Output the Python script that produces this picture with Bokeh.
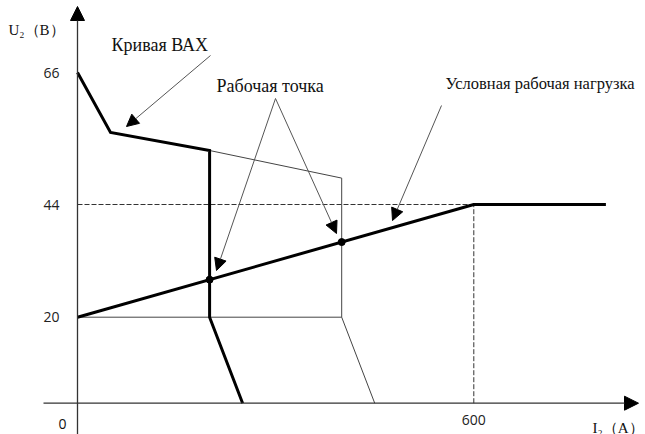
import numpy as np
from bokeh.plotting import figure
from bokeh.models import LinearAxis, FixedTicker, Arrow, NormalHead
from bokeh.core.properties import value
from bokeh.embed import file_html
from bokeh.resources import INLINE

# ---------------- data (schematic, volts / amperes) ----------------
u_ticks = [20, 44, 66]          # labelled voltage levels
i_ticks = [600]                 # labelled current
# the voltage axis of the schematic is not linear: tick positions (px above axis)
u_knots = [0, 20, 44, 66]
u_knot_pos = [0, 86, 198.7, 330.7]

bax_i = [0, 50, 200, 200, 250]          # Кривая ВАХ (bold)
bax_u = [66, 56, 53, 20, 0]
bax2_i = [200, 400, 400, 450]           # second (thin) curve
bax2_u = [53, 48.4, 20, 0]
load_i = [0, 600, 800]                  # Условная рабочая нагрузка
load_u = [20, 44, 44]
work_i = [200, 400]                     # Рабочая точка
work_u = [28, 36]
ref_u = 44                              # dashed reference level
ref_i = 600
low_u = 20
low_i_end = 400

# ---------------- layout helpers ----------------
W, H = 645, 434
KX = 0.6605                 # px per ampere
X0 = 77                     # canvas x of I = 0
YB = 402.7                  # canvas y of U = 0 (from top)
SERIF = "Times New Roman"
SANS = "Open Sans"


def Y(u):
    u = np.asarray(u, dtype=float)
    return np.where(u > 66, 330.7 + (u - 66) * 6.0, np.interp(u, u_knots, u_knot_pos))


def px(xr):   # canvas pixel x -> data x
    return (xr - X0) / KX


def py(yr):   # canvas pixel y -> data y
    return YB - yr


p = figure(width=W, height=H, x_range=(-X0 / KX, (W - X0) / KX),
           y_range=(-(H - YB), YB), x_axis_type=None, y_axis_type=None,
           toolbar_location=None, output_backend="svg", min_border=0)
p.outline_line_color = None
p.xgrid.visible = False
p.ygrid.visible = False
p.background_fill_color = "white"
p.border_fill_color = "white"

# axes (labels only) fixed at the origin
yticks = [float(v) for v in Y(u_ticks)]
yax = LinearAxis(fixed_location=0, ticker=FixedTicker(ticks=yticks),
                 major_label_overrides={t: str(u) for t, u in zip(yticks, u_ticks)})
xax = LinearAxis(fixed_location=0, ticker=FixedTicker(ticks=i_ticks),
                 major_label_overrides={float(i): str(i) for i in i_ticks})
for ax in (yax, xax):
    ax.axis_line_color = None
    ax.major_tick_line_color = None
    ax.minor_tick_line_color = None
    ax.major_label_text_font = SANS
    ax.major_label_text_font_size = "14px"
    ax.major_label_text_color = "#222222"
yax.major_label_standoff = 12
xax.major_label_standoff = 6
p.add_layout(yax, "left")
p.add_layout(xax, "below")

# axis arrows
p.add_layout(Arrow(x_start=px(43), y_start=0, x_end=px(638), y_end=0,
                   line_color="#333333", line_width=1.3,
                   end=NormalHead(size=14, fill_color="black", line_color="black")))
p.add_layout(Arrow(x_start=0, y_start=-(H - YB), x_end=0, y_end=py(6),
                   line_color="#333333", line_width=1.3,
                   end=NormalHead(size=14, fill_color="black", line_color="black")))

# thin guides
p.line([0, ref_i], [float(Y(ref_u))] * 2, line_color="#333333", line_width=1, line_dash="5 2")
p.line([ref_i, ref_i], [0, float(Y(ref_u))], line_color="#333333", line_width=1, line_dash="5 2")
p.line([0, low_i_end], [float(Y(low_u))] * 2, line_color="#444444", line_width=1)
p.line(bax2_i, Y(bax2_u), line_color="#444444", line_width=1)

# bold curves
p.line(bax_i, Y(bax_u), line_color="black", line_width=3, line_join="miter")
p.line(load_i, Y(load_u), line_color="black", line_width=3)
p.scatter(work_i, Y(work_u), size=7, color="black")

# annotation arrows
def ann(x1, y1, x2, y2):
    p.add_layout(Arrow(x_start=px(x1), y_start=py(y1), x_end=px(x2), y_end=py(y2),
                       line_color="#555555", line_width=1,
                       end=NormalHead(size=12, fill_color="black", line_color="black")))

ann(210, 55, 126, 126)
ann(275, 98, 216, 270)
ann(275, 98, 336, 233)
ann(441, 105, 392, 220)

# texts
def lab(xr, yr, text, size, font=SERIF, align="left", color="#111111"):
    p.text(x=[px(xr)], y=[py(yr)], text=[text], text_font=value(font),
           text_font_size=value(size), text_color=color,
           text_align=align, text_baseline="alphabetic")

lab(111, 44, "Кривая ВАХ", "18px")
lab(216, 85, "Рабочая точка", "18px")
lab(445, 83, "Условная рабочая нагрузка", "16.5px")
lab(8, 29.5, "U₂（В）", "15px")
lab(592, 427, "I₂（А）", "15px")
lab(62, 423, "0", "14px", font=SANS, align="center")

open("out.html", "w").write(file_html(p, INLINE))
